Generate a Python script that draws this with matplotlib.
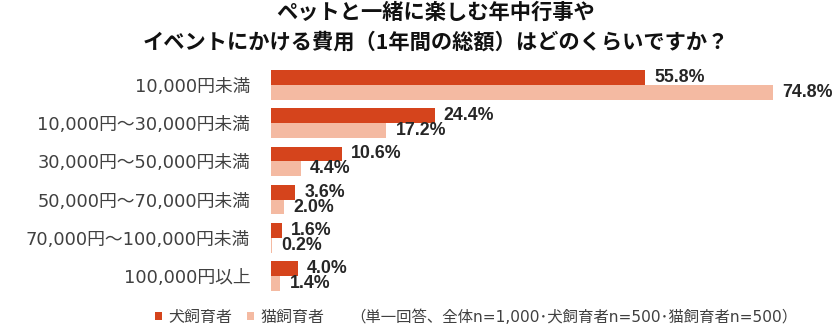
import matplotlib
matplotlib.use('Agg')
import matplotlib.pyplot as plt
import numpy as np

plt.rcParams['font.family'] = ['DejaVu Sans', 'Noto Sans CJK JP']

# data
categories = ['10,000円未満', '10,000円～30,000円未満', '30,000円～50,000円未満',
              '50,000円～70,000円未満', '70,000円～100,000円未満', '100,000円以上']
dog = [55.8, 24.4, 10.6, 3.6, 1.6, 4.0]
cat = [74.8, 17.2, 4.4, 2.0, 0.2, 1.4]
series_names = ['犬飼育者', '猫飼育者']
title_lines = ['ペットと一緒に楽しむ年中行事や',
               'イベントにかける費用（1年間の総額）はどのくらいですか？']
note = '（単一回答、全体n=1,000･犬飼育者n=500･猫飼育者n=500）'

dog_color = '#D5441C'
cat_color = '#F4BAA2'
text_gray = '#404040'

W, H = 837, 331
fig = plt.figure(figsize=(W / 100, H / 100), dpi=100)
# axes placed in pixel terms: bars start at x=271, rows from y=66 to y=295
ax = fig.add_axes([271 / W, 1 - 295.1 / H, (W - 271) / W, (295.1 - 65.9) / H])

y = np.arange(len(categories))
h = 0.39
b1 = ax.barh(y - h / 2, dog, height=h, color=dog_color, label=series_names[0])
b2 = ax.barh(y + h / 2, cat, height=h, color=cat_color, label=series_names[1])

for bars, vals in ((b1, dog), (b2, cat)):
    ax.bar_label(bars, labels=['%.1f%%' % v for v in vals], padding=6.5,
                 fontsize=12.8, fontweight='bold', family='Liberation Sans',
                 color='#262626')

ax.set_xlim(0, (W - 271) / 6.711)
ax.set_ylim(len(categories) - 0.5, -0.5)
ax.set_yticks(y)
ax.set_yticklabels(categories, fontsize=12.8, color=text_gray)
ax.tick_params(axis='y', length=0, pad=15)
ax.set_xticks([])
for s in ax.spines.values():
    s.set_visible(False)

# title, two centred lines
fig.text(436 / W, 1 - 12 / H, title_lines[0], ha='center', va='center',
         fontsize=15.3, fontweight='bold', family='Noto Sans CJK JP', color='#111111')
fig.text(436 / W, 1 - 42 / H, title_lines[1], ha='center', va='center',
         fontsize=15.3, fontweight='bold', family='Noto Sans CJK JP', color='#111111')

# legend + note at the bottom
leg = ax.legend(ncol=2, frameon=False, loc='center left',
                bbox_to_anchor=(155 / W, 1 - 317 / H), bbox_transform=fig.transFigure,
                borderpad=0, borderaxespad=0, handlelength=0.44, handleheight=0.44,
                handletextpad=0.4, columnspacing=0.9, fontsize=11.5)
for t in leg.get_texts():
    t.set_color(text_gray)
fig.text(350 / W, 1 - 317 / H, note, ha='left', va='center', fontsize=11.1,
         color=text_gray)

fig.savefig('out.png', dpi=100)
